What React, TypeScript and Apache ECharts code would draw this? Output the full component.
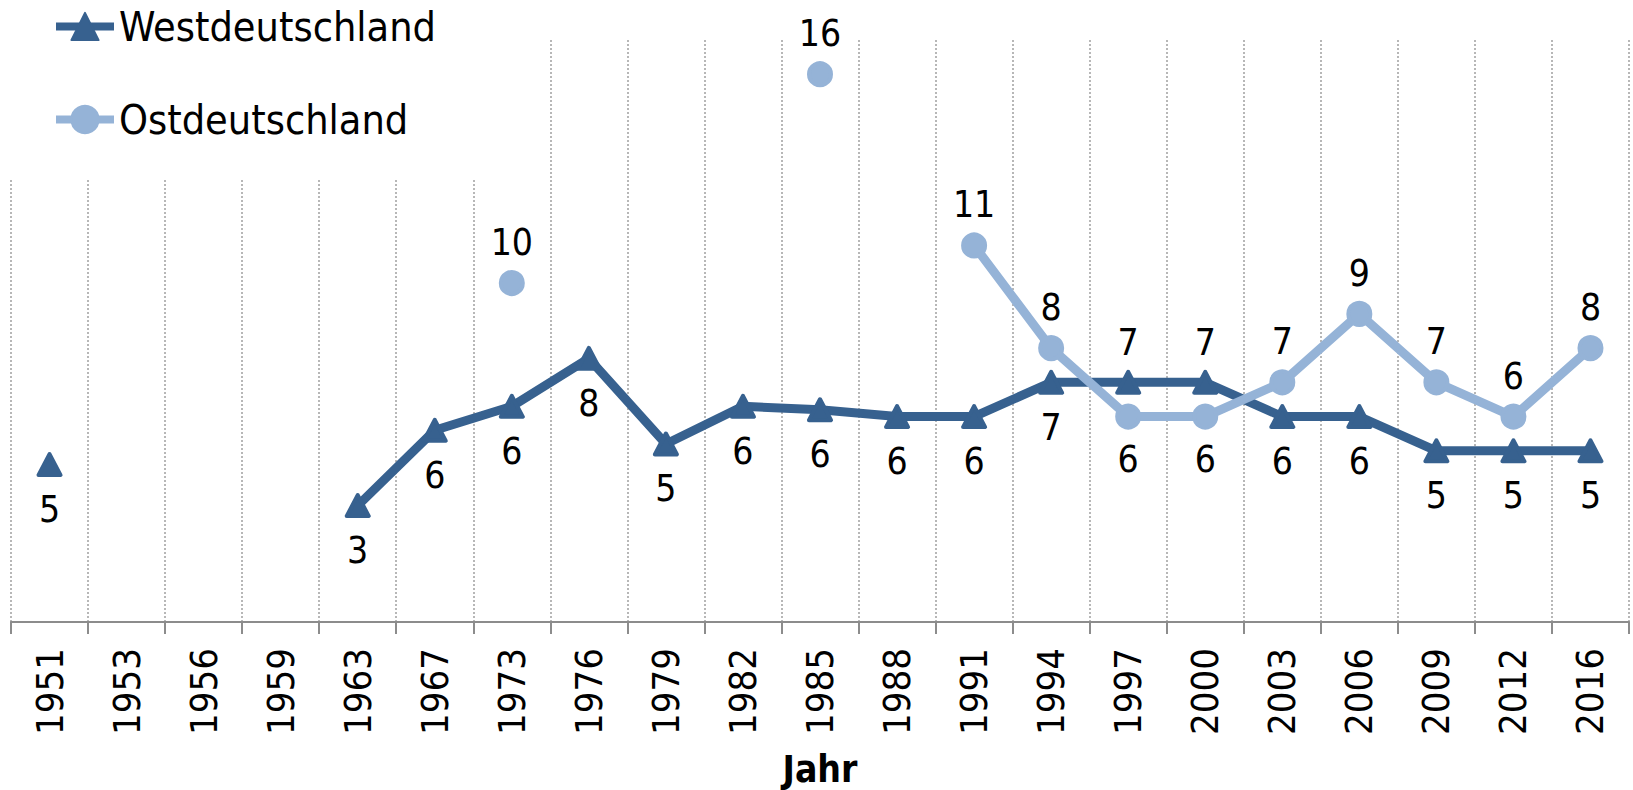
import React, { useEffect, useRef } from "react";
import * as echarts from "echarts";

const categories = ["1951","1953","1956","1959","1963","1967","1973","1976","1979","1982","1985","1988","1991","1994","1997","2000","2003","2006","2009","2012","2016"];
const westValues: (number | null)[] = [4.6, null, null, null, 3.4, 5.6, 6.3, 7.7, 5.2, 6.3, 6.2, 6.0, 6.0, 7.0, 7.0, 7.0, 6.0, 6.0, 5.0, 5.0, 5.0];
const ostValues: (number | null)[] = [null, null, null, null, null, null, 9.9, null, null, null, 16.0, null, 11.0, 8.0, 6.0, 6.0, 7.0, 9.0, 7.0, 6.0, 8.0];
const westLabelAbove = ["1997", "2000"];
const ostLabelBelow = ["1997", "2000"];
const seriesNames = ["Westdeutschland", "Ostdeutschland"];
const axisTitle = "Jahr";

const FONT = "'DejaVu Sans Condensed', 'DejaVu Sans', Verdana, sans-serif";
const WEST = "#37618F";
const OST = "#95B3D7";

export default function App() {
  const ref = useRef<HTMLDivElement>(null);
  useEffect(() => {
    if (!ref.current) return;
    const chart = echarts.init(ref.current, undefined, { renderer: "svg" });
    const fmt = (p: any) => String(Math.round(p.value));
    const westData = westValues.map((v, i) =>
      westLabelAbove.includes(categories[i])
        ? { value: v, label: { position: "top", distance: 9 } }
        : v
    );
    const ostData = ostValues.map((v, i) =>
      ostLabelBelow.includes(categories[i])
        ? { value: v, label: { position: "bottom", distance: 11 } }
        : v
    );
    chart.setOption({
      animation: false,
      backgroundColor: "#ffffff",
      textStyle: { fontFamily: FONT },
      grid: { left: 11, right: 4, top: 40, bottom: 168, containLabel: false, outerBoundsMode: "none" },
      legend: {
        orient: "vertical",
        left: 0,
        top: 0,
        padding: [6, 94, 38, 52],
        backgroundColor: "#ffffff",
        itemWidth: 58,
        itemHeight: 34,
        itemGap: 52,
        lineStyle: { width: 8 },
        textStyle: { fontSize: 41, color: "#000", fontFamily: FONT },
        data: seriesNames,
      },
      xAxis: {
        type: "category",
        data: categories,
        boundaryGap: true,
        name: axisTitle,
        nameLocation: "middle",
        nameGap: 132,
        nameMoveOverlap: false,
        nameTextStyle: { fontSize: 37, lineHeight: 30, fontWeight: "bold", color: "#000", fontFamily: FONT, verticalAlign: "top" },
        axisLine: { show: true, lineStyle: { color: "#8C8C8C", width: 2 } },
        axisTick: { show: true, interval: 0, length: 12, lineStyle: { color: "#8C8C8C", width: 2 } },
        axisLabel: { interval: 0, rotate: 90, margin: 26, fontSize: 38, color: "#000", fontFamily: FONT },
        splitLine: { show: true, interval: 0, lineStyle: { color: "#A0A0A0", width: 1.5, type: [2, 2] } },
      },
      yAxis: { type: "value", min: 0, max: 17, show: false, splitLine: { show: false } },
      series: [
        {
          name: seriesNames[0],
          type: "line",
          data: westData,
          connectNulls: false,
          showAllSymbol: true,
          symbol: "triangle",
          symbolSize: [22, 21],
          lineStyle: { color: WEST, width: 9 },
          itemStyle: { color: WEST, borderColor: WEST, borderWidth: 4, borderJoin: "round" },
          label: { show: true, position: "bottom", distance: 14, fontSize: 37, color: "#000", fontFamily: FONT, formatter: fmt },
          z: 2,
        },
        {
          name: seriesNames[1],
          type: "line",
          data: ostData,
          connectNulls: false,
          showAllSymbol: true,
          symbol: "circle",
          symbolSize: 22,
          lineStyle: { color: OST, width: 9 },
          itemStyle: { color: OST, borderColor: OST, borderWidth: 4 },
          label: { show: true, position: "top", distance: 9, fontSize: 37, color: "#000", fontFamily: FONT, formatter: fmt },
          z: 3,
        },
      ],
    });
    return () => chart.dispose();
  }, []);
  return <div ref={ref} style={{ position: "absolute", left: 0, top: 0, width: 1633, height: 790 }} />;
}
